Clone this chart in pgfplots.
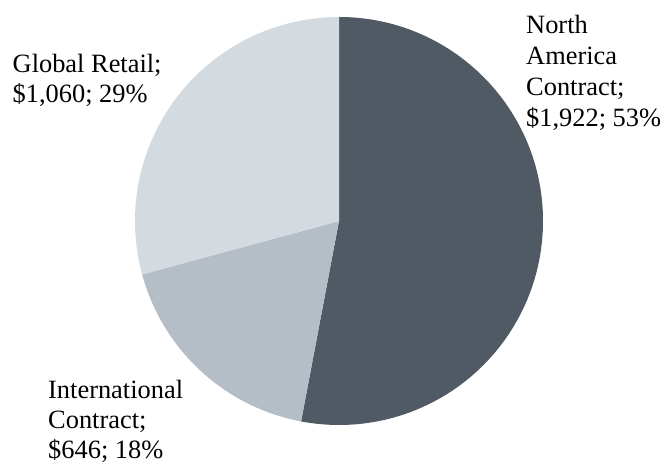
\documentclass[border=0pt]{standalone}
\usepackage{pgfplots}
\pgfplotsset{compat=1.18}
\usepackage{pgfplotstable}
\usepackage{fontspec}
\setmainfont{Liberation Serif}
\definecolor{cNA}{HTML}{505A64}
\definecolor{cInt}{HTML}{B5BEC7}
\definecolor{cGR}{HTML}{D3DAE0}
\pgfplotstableread{
name value
NA 1922
Int 646
GR 1060
}\piedata
\begin{document}
\begin{tikzpicture}
\pgfplotstablegetelem{0}{value}\of\piedata \edef\va{\pgfplotsretval}
\pgfplotstablegetelem{1}{value}\of\piedata \edef\vb{\pgfplotsretval}
\pgfplotstablegetelem{2}{value}\of\piedata \edef\vc{\pgfplotsretval}
\pgfmathsetmacro\tot{\va+\vb+\vc}
\pgfmathsetmacro\fa{\va/\tot}
\pgfmathsetmacro\fb{\vb/\tot}
\pgfmathsetmacro\aA{90-360*\fa}
\pgfmathsetmacro\aB{\aA-360*\fb}
\def\R{204bp}
\begin{axis}[hide axis, scale only axis, width=663bp, height=464bp,
  xmin=0, xmax=663, ymin=0, ymax=464, clip=false]
\path (axis cs:0,0) rectangle (axis cs:663,464);
\fill[cNA] (axis cs:339,243) -- ++(90:\R) arc[start angle=90, end angle=\aA, radius=\R] -- cycle;
\fill[cInt] (axis cs:339,243) -- ++(\aA:\R) arc[start angle=\aA, end angle=\aB, radius=\R] -- cycle;
\fill[cGR] (axis cs:339,243) -- ++(\aB:\R) arc[start angle=\aB, end angle=-270, radius=\R] -- cycle;
\begin{scope}[every node/.style={anchor=base west, inner sep=0pt, font=\fontsize{26.4bp}{30bp}\selectfont}]
\node at (axis cs:526,430) {North};
\node at (axis cs:526,399.3) {America};
\node at (axis cs:526,368.6) {Contract;};
\node at (axis cs:526,337.9) {\$1,922; 53\%};
\node at (axis cs:12.5,391) {Global Retail;};
\node at (axis cs:12.5,361.5) {\$1,060; 29\%};
\node at (axis cs:48,65) {International};
\node at (axis cs:48,35.5) {Contract;};
\node at (axis cs:48,6) {\$646; 18\%};
\end{scope}
\end{axis}
\end{tikzpicture}
\end{document}
